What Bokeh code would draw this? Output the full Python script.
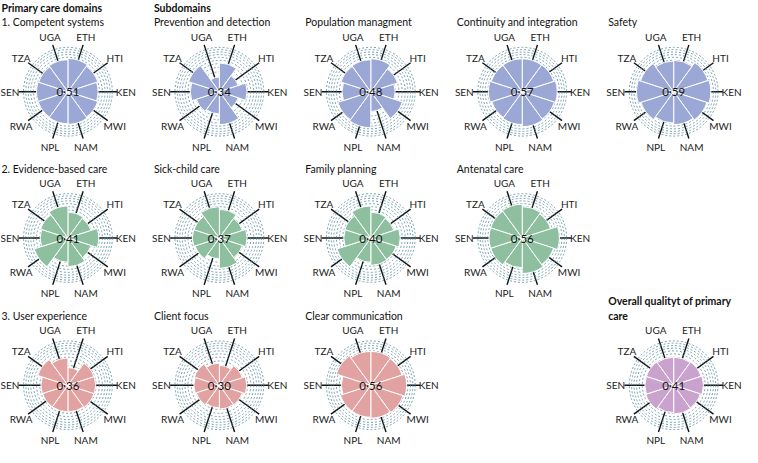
import numpy as np
from bokeh.plotting import figure
from bokeh.models import Range1d, ColumnDataSource
from bokeh.core.properties import value
from bokeh.embed import file_html
from bokeh.resources import INLINE

# ---------------- data ----------------
countries = ["ETH", "HTI", "KEN", "MWI", "NAM", "NPL", "RWA", "SEN", "TZA", "UGA"]

competent_systems = [0.56, 0.50, 0.46, 0.50, 0.54, 0.52, 0.50, 0.50, 0.48, 0.52]
prevention_detection = [0.42, 0.20, 0.39, 0.20, 0.55, 0.25, 0.30, 0.43, 0.53, 0.11]
population_management = [0.55, 0.40, 0.30, 0.56, 0.20, 0.66, 0.61, 0.42, 0.50, 0.52]
continuity_integration = [0.55, 0.56, 0.62, 0.58, 0.62, 0.55, 0.52, 0.58, 0.54, 0.55]
safety = [0.50, 0.66, 0.70, 0.62, 0.55, 0.50, 0.60, 0.70, 0.62, 0.48]
evidence_based_care = [0.34, 0.30, 0.48, 0.30, 0.42, 0.30, 0.64, 0.39, 0.42, 0.52]
sick_child_care = [0.42, 0.30, 0.39, 0.30, 0.47, 0.22, 0.33, 0.37, 0.36, 0.50]
family_planning = [0.34, 0.30, 0.44, 0.36, 0.38, 0.30, 0.64, 0.37, 0.38, 0.52]
antenatal_care = [0.50, 0.45, 0.70, 0.55, 0.64, 0.45, 0.56, 0.56, 0.56, 0.58]
user_experience = [0.16, 0.38, 0.39, 0.38, 0.36, 0.36, 0.36, 0.37, 0.51, 0.38]
client_focus = [0.20, 0.30, 0.38, 0.30, 0.29, 0.26, 0.30, 0.33, 0.35, 0.25]
clear_communication = [0.58, 0.55, 0.65, 0.58, 0.55, 0.52, 0.52, 0.44, 0.67, 0.58]
overall_quality = [0.40, 0.42, 0.45, 0.40, 0.42, 0.38, 0.44, 0.42, 0.42, 0.40]

titles = ["1. Competent systems", "Prevention and detection", "Population managment",
          "Continuity and integration", "Safety",
          "2. Evidence-based care", "Sick-child care", "Family planning", "Antenatal care",
          "3. User experience", "Client focus", "Clear communication",
          "Overall qualityt of primary care"]
composites = [0.51, 0.34, 0.48, 0.57, 0.59, 0.41, 0.37, 0.40, 0.56, 0.36, 0.30, 0.56, 0.41]
series = [competent_systems, prevention_detection, population_management,
          continuity_integration, safety, evidence_based_care, sick_child_care,
          family_planning, antenatal_care, user_experience, client_focus,
          clear_communication, overall_quality]
grid_levels = [0.1, 0.2, 0.3, 0.4, 0.5, 0.6, 0.7, 0.8, 0.9, 1.0]

# ---------------- style / layout ----------------
BLUE = "#9ba7d5"
GREEN = "#8ebf9f"
PINK = "#e2a2a2"
PURPLE = "#c9a2cd"
colors = [BLUE] * 5 + [GREEN] * 4 + [PINK] * 3 + [PURPLE]
cells = [(0, 0), (0, 1), (0, 2), (0, 3), (0, 4),
         (1, 0), (1, 1), (1, 2), (1, 3),
         (2, 0), (2, 1), (2, 2), (2, 4)]
col_cx = [68, 223, 378, 533, 688]
row_cy = [96, 250, 405]

W, H = 742, 447
SX, SY, K = 0.977, 0.95, 0.965
def X(x):
    return 9 + x * SX
def Y(y):
    return -(8 + y * SY)

R_OUT = 46.0 * K      # radius of value 1.0 (area scaled)
R_SPOKE = 51.0 * K
R_LABEL = 60.0 * K
FONT = value("Lato")

p = figure(width=W, height=H, x_range=Range1d(8, 8 + W), y_range=Range1d(-(8 + H), -8),
           output_backend="svg", toolbar_location=None, min_border=0,
           x_axis_type=None, y_axis_type=None)
p.grid.visible = False
p.outline_line_color = None
p.background_fill_color = "white"
p.border_fill_color = "white"

n = len(countries)
centre_ang = np.deg2rad(72 - 36 * np.arange(n))
start_ang = np.deg2rad(54 - 36 * np.arange(n))
end_ang = np.deg2rad(90 - 36 * np.arange(n))

for k, (vals, ttl, comp, col, (r, c)) in enumerate(zip(series, titles, composites, colors, cells)):
    cx, cy = X(col_cx[c]), Y(row_cy[r])
    # spokes
    p.segment(x0=[cx] * n, y0=[cy] * n,
              x1=list(cx + R_SPOKE * np.cos(centre_ang)),
              y1=list(cy + R_SPOKE * np.sin(centre_ang)),
              line_color="#111111", line_width=1.4)
    # dashed reference circles (area scale)
    radii = [R_OUT * np.sqrt(g) for g in grid_levels]
    p.circle(x=[cx] * len(radii), y=[cy] * len(radii), radius=radii,
             fill_color=None, line_color="#55899a", line_width=0.8, line_dash="2 2")
    # wedges
    src = ColumnDataSource(dict(x=[cx] * n, y=[cy] * n,
                                r=[R_OUT * np.sqrt(v) for v in vals],
                                s=list(start_ang), e=list(end_ang)))
    p.wedge(x="x", y="y", radius="r", start_angle="s", end_angle="e",
            direction="anticlock", source=src, fill_color=col,
            line_color="white", line_width=1.0)
    # composite
    p.text(x=[cx], y=[cy], text=[f"{comp:.2f}".replace(".", "\u00b7")],
           text_align="center", text_baseline="middle", text_font=FONT,
           text_font_size="11.5px", text_color="#111111")
    # country labels
    p.text(x=list(cx + R_LABEL * np.cos(centre_ang)),
           y=list(cy + R_LABEL * np.sin(centre_ang)), text=countries,
           text_align="center", text_baseline="middle", text_font=FONT,
           text_font_size="10px", text_color="#222222")
    # titles
    tx = X(col_cx[c] - 67) if c > 0 else X(0)
    ty = row_cy[r] - 73
    if k == 12:
        p.text(x=[tx, tx], y=[Y(ty - 16), Y(ty)],
               text=["Overall qualityt of primary", "care"],
               text_align="left", text_baseline="middle", text_font=FONT,
               text_font_size="10.5px", text_font_style="bold", text_color="#111111")
    else:
        p.text(x=[tx], y=[Y(ty)], text=[ttl], text_align="left",
               text_baseline="middle", text_font=FONT, text_font_size="10.5px",
               text_color="#111111")

# headers
p.text(x=[X(0), X(156)], y=[Y(8), Y(8)], text=["Primary care domains", "Subdomains"],
       text_align="left", text_baseline="middle", text_font=FONT,
       text_font_size="10.5px", text_font_style="bold", text_color="#111111")

open("out.html", "w").write(file_html(p, INLINE))
